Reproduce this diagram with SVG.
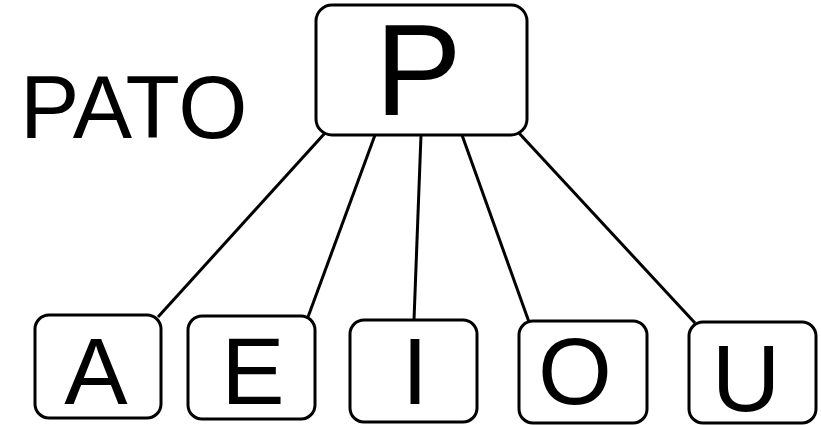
<svg xmlns="http://www.w3.org/2000/svg" width="821" height="425" viewBox="0 0 821 425">
<style>
.box{fill:#fff;stroke:#000;stroke-width:3}
.lbl{font-family:"Liberation Sans",Arial,sans-serif;fill:#000}
.conn line{stroke:#000;stroke-width:3}
</style>
<rect width="821" height="425" fill="#fff"/>
<g class="conn">
<line x1="325" y1="133" x2="158" y2="317"/>
<line x1="375" y1="135" x2="308" y2="317"/>
<line x1="421" y1="135" x2="414" y2="320"/>
<line x1="462" y1="135" x2="529" y2="322"/>
<line x1="518" y1="132" x2="695" y2="323"/>
</g>
<text class="lbl" x="20" y="138" font-size="89">PATO</text>
<g id="P">
<rect class="box" x="316" y="5" width="211" height="130" rx="16"/>
<text class="lbl" x="375" y="115" font-size="130">P</text>
</g>
<g id="A">
<rect class="box" x="35" y="315" width="126" height="103" rx="14"/>
<text class="lbl" x="96" y="404" font-size="95" text-anchor="middle">A</text>
</g>
<g id="E">
<rect class="box" x="188" y="316" width="127" height="103" rx="14"/>
<text class="lbl" x="253" y="404" font-size="95" text-anchor="middle">E</text>
</g>
<g id="I">
<rect class="box" x="350" y="320" width="127" height="102" rx="14"/>
<text class="lbl" x="415" y="404" font-size="95" text-anchor="middle">I</text>
</g>
<g id="O">
<rect class="box" x="519" y="321" width="128" height="102" rx="14"/>
<text class="lbl" x="575" y="404" font-size="95" text-anchor="middle">O</text>
</g>
<g id="U">
<rect class="box" x="689" y="322" width="127" height="101" rx="14"/>
<text class="lbl" x="746" y="411" font-size="95" text-anchor="middle">U</text>
</g>
</svg>
